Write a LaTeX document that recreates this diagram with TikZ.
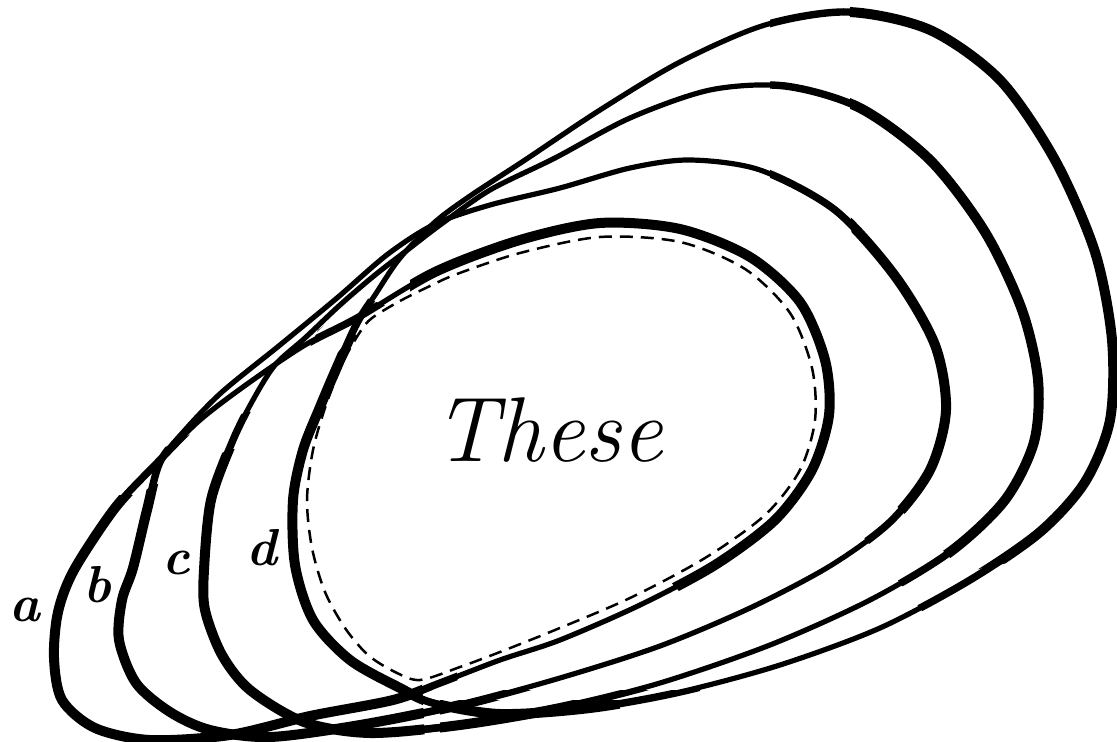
\documentclass[tikz,border=0pt]{standalone}
\usepackage{tikz}

\newcommand{\ovala}[1]{\draw[#1] plot[smooth cycle] coordinates {
    (62,700) (54,658) (58,612) (74,570) (115,508) (157,463) (200,420) (250,382)
    (305,345) (357,318) (435,272) (520,240) (600,223) (680,229) (750,257) (800,302)
    (825,360) (829,415) (812,470) (775,520) (715,565) (640,605) (560,640) (500,660)
    (440,683) (393,700) (310,716) (230,735) (150,740) (95,728)};}
\newcommand{\ovalb}[1]{\draw[#1] plot[smooth cycle] coordinates {
    (136,683) (119,640) (122,600) (133,568) (147,510) (160,462) (185,430) (222,392)
    (280,345) (337,298) (388,254) (435,224) (490,205) (560,188) (630,168) (690,160)
    (760,170) (835,210) (895,276) (935,345) (946,410) (930,470) (890,522) (830,566)
    (750,608) (660,646) (560,678) (460,705) (360,725) (270,737) (210,730) (170,712)};}
\newcommand{\ovalc}[1]{\draw[#1] plot[smooth cycle] coordinates {
    (250,690) (222,655) (205,610) (204,570) (211,500) (233,440) (253,400) (275,365)
    (305,338) (340,305) (375,275) (410,248) (440,225) (490,190) (555,158) (630,118)
    (710,90) (785,86) (860,108) (930,160) (985,232) (1022,310) (1038,380) (1034,442)
    (1005,500) (950,552) (870,600) (770,645) (660,683) (560,708) (460,725) (370,733)
    (304,722)};}
\newcommand{\ovald}[1]{\draw[#1] plot[smooth cycle] coordinates {
    (350,660) (313,620) (295,565) (293,500) (303,450) (320,407) (337,367) (357,323)
    (375,295) (400,258) (435,222) (470,196) (525,160) (600,110) (680,62) (765,25)
    (848,12) (930,30) (1000,80) (1055,160) (1095,252) (1112,340) (1110,420) (1085,482)
    (1040,532) (970,580) (880,628) (780,665) (680,692) (590,708) (500,714) (433,703)
    (400,688)};}
\newcommand{\allovals}[1]{\ovala{#1}\ovalb{#1}\ovalc{#1}\ovald{#1}}

\begin{document}
\begin{tikzpicture}[x=0.5pt, y=-0.5pt]

\tikzset{
    rim/.style={line width=2.6pt, line join=round, line cap=round},
    rimmid/.style={line width=3.7pt, line join=round},
    rimthick/.style={line width=5pt, line join=round},
    commonline/.style={line width=1.25pt, dash pattern=on 6.5pt off 4pt},
    setlabel/.style={font=\fontsize{26}{26}\selectfont\bfseries\itshape, inner sep=0pt},
    bigword/.style={font=\fontsize{46}{46}\selectfont\itshape, inner sep=0pt}
}

\useasboundingbox (0,0) rectangle (1117,742);

\allovals{rim}

\begin{scope}
    \clip (0,742) -- (0,455) -- (140,460) -- (222,418) -- (283,405) -- (318,330)
        -- (362,296) -- (415,318) -- (465,742) -- cycle;
    \allovals{rimmid}
\end{scope}
\begin{scope}
    \clip (770,0) -- (1117,0) -- (1117,615) -- (945,640) -- (850,520) -- (835,420)
        -- (800,250) -- (770,180) -- cycle;
    \allovals{rimmid}
\end{scope}
\begin{scope}
    \clip (380,690) rectangle (700,742);
    \allovals{rimmid}
\end{scope}

\begin{scope}
    \clip (0,742) -- (0,495) -- (135,495) -- (228,450) -- (296,440) -- (326,368)
        -- (352,334) -- (405,345) -- (425,742) -- cycle;
    \allovals{rimthick}
\end{scope}
\begin{scope}
    \clip (850,0) -- (1117,0) -- (1117,540) -- (965,572) -- (880,490) -- (858,380)
        -- (850,200) -- cycle;
    \allovals{rimthick}
\end{scope}
\begin{scope}
    \clip (410,262) -- (500,226) -- (560,214) -- (700,210) -- (775,238) -- (840,300)
        -- (868,400) -- (845,505) -- (765,572) -- (690,603) -- (655,565) -- (700,470)
        -- (720,380) -- (690,300) -- (560,292) -- (410,325) -- cycle;
    \allovals{rimthick}
\end{scope}
\begin{scope}
    \clip (440,700) rectangle (620,742);
    \allovals{rimthick}
\end{scope}

\draw[commonline] plot[smooth cycle] coordinates {
    (372,318) (400,301) (430,286) (457,274) (520,253) (600,237) (680,242) (745,269)
    (790,313) (812,368) (815,420) (800,470) (765,515) (705,558) (630,598) (555,630)
    (500,652) (460,667) (420,680) (395,672) (368,655) (345,628) (325,592) (312,548)
    (307,500) (313,450) (326,405) (343,362) (360,332)};

\node[bigword] (these) at (548,430) {These};

\node[setlabel] (la) at (25,610) {a};
\node[setlabel] (lb) at (97,585) {b};
\node[setlabel] (lc) at (176,563) {c};
\node[setlabel] (ld) at (262,548) {d};

\end{tikzpicture}
\end{document}
